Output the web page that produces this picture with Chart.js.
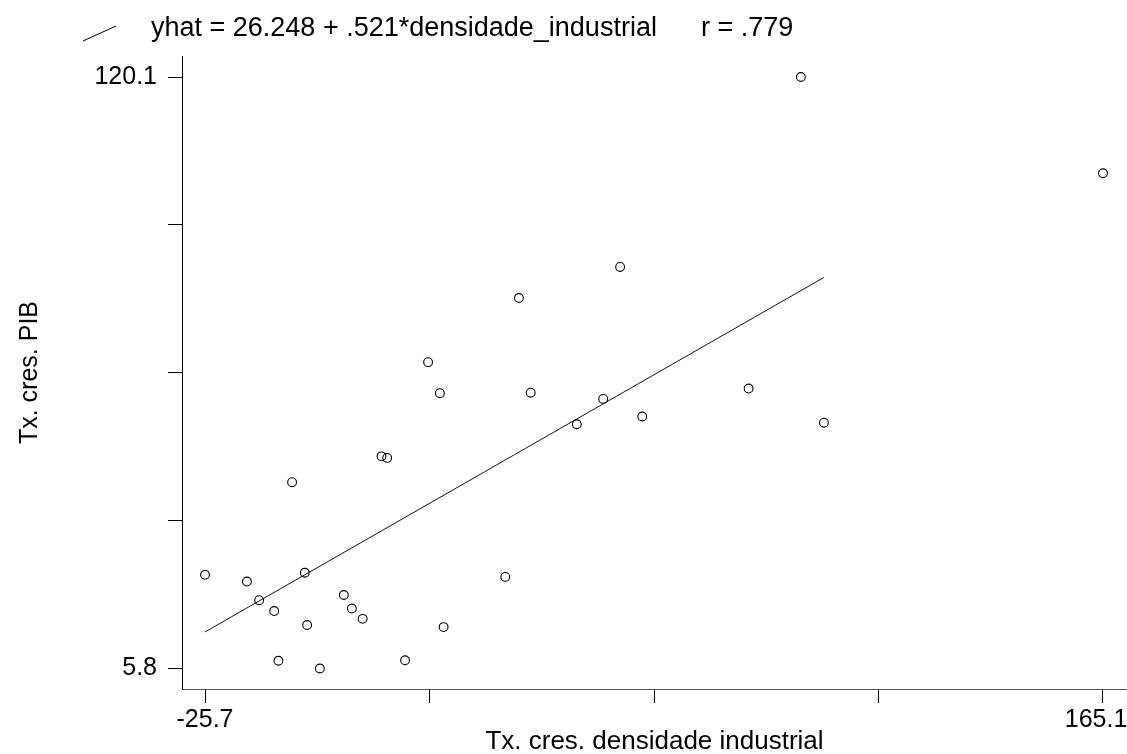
<!DOCTYPE html>
<html>
<head>
<meta charset="utf-8">
<script src="https://cdn.jsdelivr.net/npm/chart.js@4.4.1/dist/chart.umd.min.js"></script>
<style>
  html, body { margin: 0; padding: 0; background: #fff; }
  #wrap { width: 1127px; height: 754px; }
</style>
</head>
<body>
<div id="wrap"><canvas id="c" width="1127" height="754"></canvas></div>
<script>
// ---- data ----
const densidadeIndustrial = [
  -25.7, -16.8, -14.2, -11.0, -4.5, -7.2, 11.8, 13.0, -10.1, -4.0,
  -1.3, 3.8, 5.5, 7.8, 16.8, 25.0, 38.1, 21.7, 24.2, 41.0,
  43.5, 62.5, 53.3, 58.9, 67.2, 89.8, 105.8, 100.9, 165.1
];
const crescPIB = [
  23.9, 22.6, 19.0, 16.9, 24.3, 41.8, 46.8, 46.5, 7.3, 14.2,
  5.8, 20.0, 17.4, 15.4, 7.4, 13.8, 23.5, 65.0, 59.0, 77.4,
  59.1, 83.4, 53.0, 57.9, 54.5, 59.9, 53.3, 120.1, 101.5
];
// fitted line yhat = 26.248 + .521*x, drawn over the fitted range
const fitX = [-25.7, 105.8];
const fitY = [12.86, 81.37];

const xTickValues = [-25.7, 22.0, 69.7, 117.4, 165.1];
const xTickLabels = ['-25.7', '', '', '', '165.1  '];
const yTickValues = [5.8, 34.375, 62.95, 91.525, 120.1];
const yTickLabels = ['5.8', '', '', '', '120.1'];

const titleText = 'yhat = 26.248 + .521*densidade_industrial';
const rText = 'r = .779';
const xTitle = 'Tx. cres. densidade industrial';
const yTitle = 'Tx. cres. PIB';

// ---- chart ----
const FONT = 'Liberation Sans, Arial, Helvetica, sans-serif';

const headerPlugin = {
  id: 'header',
  afterDraw(chart) {
    const ctx = chart.ctx;
    ctx.save();
    ctx.strokeStyle = '#000';
    ctx.lineWidth = 1;
    ctx.beginPath();
    ctx.moveTo(83, 41);
    ctx.lineTo(116, 26);
    ctx.stroke();
    ctx.fillStyle = '#000';
    ctx.font = '27px ' + FONT;
    ctx.textBaseline = 'middle';
    ctx.textAlign = 'left';
    ctx.fillText(titleText, 151, 29);
    ctx.fillText(rText, 701, 29);
    ctx.restore();
  }
};

function fixScale(size, key) {
  return function (scale) {
    scale[key] = size;
    scale.paddingLeft = 0;
    scale.paddingRight = 0;
    scale.paddingTop = 0;
    scale.paddingBottom = 0;
  };
}

const scatterPts = densidadeIndustrial.map((x, i) => ({ x: x, y: crescPIB[i] }));
const fitPts = fitX.map((x, i) => ({ x: x, y: fitY[i] }));

new Chart(document.getElementById('c'), {
  type: 'scatter',
  data: {
    datasets: [
      {
        label: 'Tx. cres. PIB',
        data: scatterPts,
        pointStyle: 'circle',
        pointRadius: 4.4,
        pointBorderWidth: 1.1,
        borderColor: '#000',
        backgroundColor: 'rgba(0,0,0,0)',
        pointBackgroundColor: 'rgba(0,0,0,0)'
      },
      {
        type: 'line',
        label: 'yhat',
        data: fitPts,
        showLine: true,
        borderColor: '#111',
        borderWidth: 1,
        pointRadius: 0,
        fill: false,
        tension: 0
      }
    ]
  },
  options: {
    responsive: false,
    animation: false,
    events: [],
    layout: { autoPadding: false, padding: { top: 56, left: 0, right: 0, bottom: 0 } },
    plugins: {
      legend: { display: false },
      tooltip: { enabled: false },
      title: { display: false }
    },
    scales: {
      x: {
        type: 'linear',
        position: 'bottom',
        min: -30.59,
        max: 170.2,
        afterFit: fixScale(65, 'height'),
        afterBuildTicks: (s) => { s.ticks = xTickValues.map(v => ({ value: v })); },
        ticks: {
          autoSkip: false,
          maxRotation: 0,
          minRotation: 0,
          padding: 2,
          color: '#000',
          font: { family: FONT, size: 25 },
          callback: (v, i) => xTickLabels[i]
        },
        grid: {
          display: true,
          drawOnChartArea: false,
          drawTicks: true,
          tickLength: 14,
          color: '#000',
          lineWidth: 1
        },
        border: { display: true, color: '#555', width: 1 },
        title: {
          display: true,
          text: xTitle,
          color: '#000',
          font: { family: FONT, size: 26 },
          padding: { top: 0, bottom: -3 }
        }
      },
      y: {
        type: 'linear',
        position: 'left',
        min: 1.84,
        max: 124.16,
        afterFit: fixScale(182, 'width'),
        afterBuildTicks: (s) => { s.ticks = yTickValues.map(v => ({ value: v })); },
        ticks: {
          autoSkip: false,
          padding: 11,
          color: '#000',
          font: { family: FONT, size: 25 },
          callback: (v, i) => yTickLabels[i]
        },
        grid: {
          display: true,
          drawOnChartArea: false,
          drawTicks: true,
          tickLength: 14,
          color: '#000',
          lineWidth: 1
        },
        border: { display: true, color: '#000', width: 1 },
        title: {
          display: true,
          text: yTitle,
          color: '#000',
          font: { family: FONT, size: 25 },
          padding: { top: 15, bottom: 0 }
        }
      }
    }
  },
  plugins: [headerPlugin]
});
</script>
</body>
</html>
